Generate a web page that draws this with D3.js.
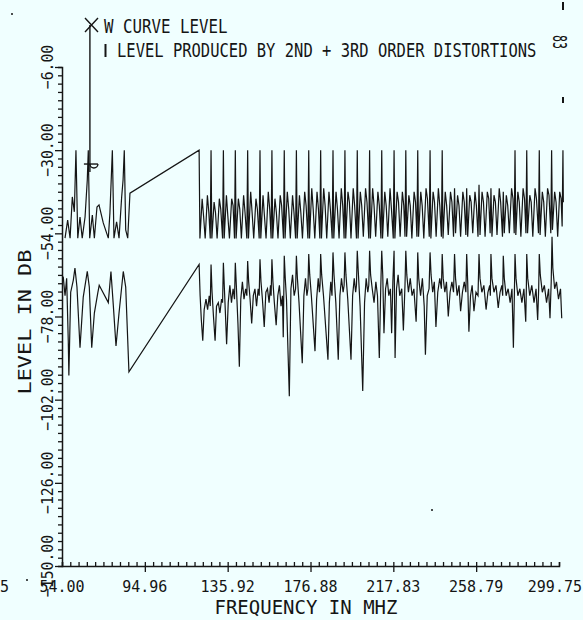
<!DOCTYPE html>
<html>
<head>
<meta charset="utf-8">
<script src="https://cdn.jsdelivr.net/npm/d3@7/dist/d3.min.js"></script>
<style>
  body { margin: 0; background: #f0ffff; }
  svg { display: block; }
  text { font-family: "DejaVu Sans Mono", monospace; fill: #151515; }
</style>
</head>
<body>
<svg id="chart" width="583" height="620"></svg>
<script>
// axis ticks as printed on the plot
var xTickValues = [54.00, 94.96, 135.92, 176.88, 217.83, 258.79, 299.75];
var yTickValues = [-6, -30, -54, -78, -102, -126, -150];

// legend
var legendLabels = ['W CURVE LEVEL', 'LEVEL PRODUCED BY 2ND + 3RD ORDER DISTORTIONS'];
var wCurvePoint = [67.8, -34.0];   // MHz, dB

// upper trace: [MHz, dB], low band (channels 2-6)
var upperLowBand = [
  [55.5, -55.4], [56.8, -50.2], [58.0, -55.4], [59.1, -43.5], [60.1, -47.8], [60.9, -30],
  [61.8, -55.4], [62.9, -49.3], [64.0, -55.4], [65.4, -49.3], [66.5, -38.6], [67.0, -30],
  [67.7, -55.4], [69.0, -48.7], [70.0, -55.4], [71.3, -46.4], [72.3, -45.8], [74.4, -51],
  [76.9, -55.4], [77.7, -48.1], [78.9, -30], [79.7, -55.4], [81.0, -50.7], [82.2, -55.4],
  [83.5, -43.5], [84.2, -38.6], [84.8, -30], [85.5, -53], [86.5, -55.4], [87.6, -42.4]
];

// upper trace: mid / high band
var upperMainBand = [
  [121.8, -30], [122.2, -55.5], [123.3, -44], [124.0, -49], [124.8, -55.5], [125.9, -43], [126.6, -48], [127.3, -55.5],
  [127.7, -30], [128.1, -55.5], [129.2, -45], [129.9, -48], [130.7, -55.5], [131.8, -44], [132.5, -47], [133.4, -55.5],
  [133.8, -30], [134.2, -55.5], [135.3, -43], [136.0, -49], [136.8, -55.5], [137.9, -44], [138.6, -46], [139.3, -55.5],
  [139.7, -30], [140.1, -55.5], [141.2, -44], [141.9, -47], [142.7, -55.5], [143.8, -43], [144.5, -48], [145.4, -55.5],
  [145.8, -30], [146.2, -55.5], [147.3, -42], [148.0, -48], [148.8, -55.5], [149.9, -44], [150.6, -47], [151.5, -55.5],
  [151.9, -30], [152.3, -55.5], [153.4, -43], [154.1, -49], [154.9, -55.5], [156.0, -42], [156.7, -47], [157.4, -55.5],
  [157.8, -30], [158.2, -55.5], [159.3, -44], [160.0, -48], [160.8, -55.5], [161.9, -43], [162.6, -46], [163.5, -55.5],
  [163.9, -30], [164.3, -55.5], [165.4, -42], [166.1, -47], [166.9, -55.5], [168.0, -43], [168.7, -48], [169.5, -55.5],
  [169.9, -30], [170.3, -55.5], [171.4, -43], [172.1, -48], [172.9, -55.5], [174.0, -42], [174.7, -46], [175.6, -55.5],
  [176.0, -30], [176.4, -55.5], [177.5, -41], [178.2, -47], [179.0, -55.5], [180.1, -42], [180.8, -47], [181.5, -55.5],
  [181.9, -30], [182.3, -55.5], [183.4, -41], [184.1, -46], [184.9, -55.5], [186.0, -42], [186.7, -47], [187.6, -55.5],
  [188.0, -30], [188.4, -55.5], [189.5, -42], [190.2, -47], [191.0, -55.5], [192.1, -41], [192.8, -46], [193.5, -55.5],
  [193.9, -30], [194.3, -55.5], [195.4, -42], [196.1, -45], [196.9, -55.5], [198.0, -41], [198.7, -46], [199.6, -55.5],
  [200.0, -30], [200.4, -55.5], [201.5, -42], [202.2, -46], [203.0, -55], [204.1, -41], [204.8, -45], [205.7, -55.5],
  [206.1, -30], [206.5, -55.5], [207.6, -41], [208.3, -46], [209.1, -55], [210.2, -42], [210.9, -46], [211.7, -55.5],
  [212.1, -30], [212.5, -55.5], [213.6, -42], [214.3, -46], [215.1, -55], [216.2, -41], [216.9, -47], [217.8, -55.5],
  [218.2, -30], [218.6, -55.5], [219.7, -42], [220.4, -45], [221.2, -55], [222.3, -42], [223.0, -46], [223.6, -55],
  [224.0, -30], [224.4, -55], [225.5, -43], [226.2, -46], [227.0, -55.5], [228.1, -42], [228.8, -45], [229.5, -55],
  [229.9, -30], [230.3, -55], [231.4, -42], [232.1, -46], [232.9, -55.5], [234.0, -41], [234.7, -44], [235.6, -55],
  [236.0, -30], [236.4, -55.5], [237.5, -42], [238.2, -45], [239.0, -55], [240.1, -41], [240.8, -46], [241.6, -55],
  [242.0, -30], [242.4, -55.5], [243.5, -42], [244.2, -46], [245.0, -54.5], [246.1, -42], [246.8, -45], [247.6, -55],
  [248.1, -41], [248.6, -54], [249.6, -43], [250.3, -46], [251.1, -55], [252.2, -42], [252.9, -45], [253.7, -54.5],
  [254.1, -41], [254.6, -55], [255.6, -43], [256.3, -45], [257.1, -54], [258.2, -42], [258.9, -46], [259.7, -55],
  [260.2, -40], [260.7, -54.5], [261.7, -42], [262.4, -45], [263.2, -55], [264.3, -42], [265.0, -44], [265.7, -54],
  [266.1, -41], [266.6, -55], [267.6, -43], [268.3, -45], [269.1, -54.5], [270.2, -41], [270.9, -45], [271.8, -55],
  [272.2, -42], [272.7, -54], [273.7, -43], [274.4, -46], [275.2, -54], [276.3, -41], [277.0, -44], [277.6, -54],
  [278.0, -30], [278.4, -54.5], [279.4, -42], [280.1, -45], [280.9, -55], [282.0, -41], [282.7, -44], [283.4, -54],
  [283.8, -30], [284.2, -54], [285.3, -43], [286.0, -45], [286.8, -55], [287.9, -41], [288.6, -44], [289.6, -54],
  [290.0, -30], [290.4, -54.5], [291.5, -42], [292.2, -45], [293.0, -55], [294.1, -41], [294.8, -43], [295.7, -54],
  [296.1, -30], [296.5, -53], [297.6, -42], [298.3, -45], [299.1, -55], [300.1, -42], [300.8, -44], [301.3, -52],
  [301.7, -30], [301.9, -45]
];

// lower trace: [MHz, dB], low band
var lowerLowBand = [
  [54.6, -66.5], [55.5, -72], [56.3, -67], [57.1, -85], [57.4, -95], [58.3, -71], [59.6, -67.5],
  [60.4, -64], [61.4, -69.5], [62.9, -87], [64.5, -72.4], [66.5, -65], [67.5, -69.5], [68.7, -87],
  [70.0, -77], [71.7, -71.2], [72.4, -69], [76.9, -74], [78.2, -65], [79.4, -75], [80.7, -86.5],
  [82.2, -77], [84.3, -65], [85.5, -69.5], [87.1, -94]
];

// lower trace: mid / high band
var lowerMainBand = [
  [121.8, -63], [122.3, -72], [122.9, -79], [123.6, -85], [124.3, -76], [125.2, -73], [126.0, -76], [126.8, -72], [127.3, -75],
  [127.7, -63], [128.2, -71], [128.9, -78], [129.7, -85], [130.4, -75], [131.3, -74], [132.1, -77], [132.9, -73], [133.4, -74],
  [133.8, -62.5], [134.3, -70], [134.8, -77], [135.4, -86], [136.2, -74], [137.0, -69], [137.8, -74], [138.6, -70], [139.3, -73],
  [139.7, -62.5], [140.2, -69], [141.0, -80], [141.7, -92.5], [142.4, -73], [143.2, -68], [144.0, -73], [144.8, -70], [145.4, -72],
  [145.8, -62], [146.3, -68], [147.0, -73], [147.8, -80], [148.6, -72], [149.4, -70], [150.2, -75], [151.0, -70], [151.5, -72],
  [151.9, -61.5], [152.4, -68], [153.1, -73], [154.0, -81], [154.8, -71], [155.6, -70], [156.4, -74], [157.1, -69], [157.4, -72],
  [157.8, -61.5], [158.3, -68], [159.0, -74], [159.9, -80.5], [160.7, -72], [161.5, -69], [162.3, -75], [163.0, -72], [163.4, -84],
  [163.9, -60.5], [164.4, -67], [165.0, -73], [166.4, -101], [167.2, -70], [168.0, -66], [168.8, -72], [169.5, -70],
  [169.9, -60.5], [170.4, -67], [171.2, -74], [172.8, -91.5], [173.6, -72], [174.4, -67], [175.1, -72], [175.6, -70],
  [176.0, -60], [176.5, -66], [177.3, -72], [179.1, -88], [179.9, -73], [180.7, -67], [181.3, -71], [181.6, -69],
  [181.9, -60], [182.4, -66], [183.3, -72], [185.5, -90.5], [186.2, -74], [186.9, -68], [187.5, -72],
  [188.0, -59.5], [188.5, -66], [189.4, -74], [190.6, -90.5], [191.4, -72], [192.2, -67], [193.0, -71], [193.5, -69],
  [193.9, -59.5], [194.4, -66], [195.3, -73], [196.9, -90.5], [197.7, -72], [198.5, -67], [199.2, -71], [199.6, -69],
  [200.0, -59], [200.5, -65], [201.4, -75], [202.7, -99.5], [203.6, -74], [204.4, -67], [205.2, -71], [205.7, -69],
  [206.1, -59], [206.6, -66], [207.4, -70], [208.3, -74], [209.2, -68], [210.0, -72], [210.9, -90], [211.6, -70],
  [212.1, -59], [212.6, -66], [213.2, -82.8], [214.0, -70], [214.8, -67], [215.6, -72], [216.4, -70], [217.0, -82.8], [217.6, -68],
  [218.2, -59], [218.7, -90], [219.4, -70], [220.2, -66], [221.0, -72], [222.0, -70], [222.8, -82], [223.6, -69],
  [224.0, -59], [224.5, -66], [225.3, -71], [226.2, -67], [227.1, -72], [228.0, -70], [229.1, -79.5], [229.6, -70],
  [229.9, -59.5], [230.4, -67], [231.3, -72], [232.2, -67], [233.1, -75], [233.7, -89], [234.6, -72], [235.5, -70],
  [236.0, -59.5], [236.5, -66], [237.3, -71], [238.1, -68], [238.9, -81], [239.8, -71], [240.8, -67], [241.6, -70],
  [242.0, -60], [242.5, -67], [243.3, -71], [244.1, -68], [245.0, -78], [245.9, -71], [246.8, -68], [247.6, -71],
  [248.1, -60], [248.6, -67], [249.4, -72], [250.3, -69], [251.1, -76.5], [252.0, -71], [252.9, -68], [253.7, -71],
  [254.1, -60], [254.6, -68], [255.2, -82.4], [256.0, -72], [256.8, -69], [257.7, -76.5], [258.7, -71], [259.7, -72],
  [260.2, -60], [260.7, -67], [261.6, -71], [262.6, -69], [263.7, -76], [264.6, -71], [265.5, -69], [265.8, -72],
  [266.1, -60], [266.6, -67], [267.6, -71], [268.6, -69], [269.7, -75.5], [270.6, -71], [271.5, -69], [271.9, -72],
  [272.2, -60.5], [272.7, -67], [273.6, -72], [274.6, -70], [275.6, -74], [276.5, -70], [277.2, -87], [277.7, -71],
  [278.0, -60], [278.5, -67], [279.4, -72], [280.4, -70], [281.4, -74], [282.4, -70], [283.3, -79.5], [283.6, -70],
  [283.8, -60], [284.3, -67], [285.3, -72], [286.3, -69], [287.4, -74], [288.4, -70], [289.2, -79], [289.7, -70],
  [290.0, -60], [290.5, -66], [291.5, -71], [292.5, -69], [293.6, -74], [294.6, -70], [295.3, -78.5], [295.9, -68],
  [296.3, -55], [296.7, -64], [297.6, -70], [298.5, -68], [299.5, -73], [300.5, -70], [301.1, -78.5]
];

var svg = d3.select('#chart');
var ink = '#151515';

svg.append('rect').attr('width', 583).attr('height', 620).attr('fill', '#f0ffff');

var x = d3.scaleLinear().domain([54, 299.75]).range([62, 559]);
var y = d3.scaleLinear().domain([-150, -6]).range([566, 67]);

// minor ticks: ten per labelled interval
var xMinor = d3.range(0, 61).map(function(i) { return 54 + i * (299.75 - 54) / 60; });
var yMinor = d3.range(0, 61).map(function(i) { return -150 + i * 2.4; });

var yAxisG = svg.append('g').attr('transform', 'translate(62,0)');
yAxisG.call(d3.axisLeft(y).tickValues(yMinor).tickSize(4).tickFormat(''));
yAxisG.call(function(g) {
  g.selectAll('.tick').filter(function(d) { return yTickValues.some(function(v) { return Math.abs(v - d) < 0.01; }); })
      .select('line').attr('x2', -7);
});

var xAxisG = svg.append('g').attr('transform', 'translate(0,566)');
xAxisG.call(d3.axisBottom(x).tickValues(xMinor).tickSize(-4).tickFormat(''));
svg.append('g').attr('transform', 'translate(0,566)')
    .call(d3.axisBottom(x).tickValues(xTickValues.slice(1, -1)).tickSize(6).tickFormat(''))
    .select('.domain').remove();

svg.selectAll('.domain').attr('stroke', ink).attr('stroke-width', 1.5);
svg.selectAll('.tick line').attr('stroke', ink).attr('stroke-width', 1.3);

// tick labels
svg.append('g').selectAll('text').data(yTickValues).enter().append('text')
    .attr('transform', function(d) { return 'translate(53,' + y(d) + ') rotate(-90)'; })
    .attr('text-anchor', 'middle')
    .style('font-size', '16px')
    .attr('textLength', function(d) { return d3.format('.2f')(d).length * 8.9; })
    .attr('lengthAdjust', 'spacingAndGlyphs')
    .text(function(d) { return d3.format('.2f')(d); });

// last label sits against the right edge of the sheet
svg.append('g').selectAll('text').data(xTickValues).enter().append('text')
    .attr('x', function(d, i) { return i === xTickValues.length - 1 ? 582 : x(d); })
    .attr('y', 592)
    .attr('text-anchor', function(d, i) { return i === xTickValues.length - 1 ? 'end' : 'middle'; })
    .style('font-size', '15px')
    .text(function(d) { return d3.format('.2f')(d); });

// axis titles
svg.append('text')
    .attr('transform', 'translate(31,322) rotate(-90)')
    .attr('text-anchor', 'middle')
    .style('font-size', '18px')
    .attr('textLength', 145).attr('lengthAdjust', 'spacingAndGlyphs')
    .text('LEVEL  IN  DB');

svg.append('text')
    .attr('x', 306).attr('y', 614)
    .attr('text-anchor', 'middle')
    .style('font-size', '19px')
    .attr('textLength', 183).attr('lengthAdjust', 'spacingAndGlyphs')
    .text('FREQUENCY IN MHZ');

// traces
var line = d3.line()
    .x(function(d) { return x(d[0]); })
    .y(function(d) { return y(d[1]); });

var traces = [upperLowBand.concat(upperMainBand), lowerLowBand.concat(lowerMainBand)];
svg.append('g').selectAll('path').data(traces).enter().append('path')
    .attr('d', line)
    .attr('fill', 'none')
    .attr('stroke', ink)
    .attr('stroke-width', 1.2)
    .attr('stroke-linejoin', 'miter');

// legend
var mx = x(wCurvePoint[0]), my = y(wCurvePoint[1]);
var lg = svg.append('g').attr('stroke', ink).attr('fill', 'none').attr('stroke-width', 1.4);
lg.append('path').attr('d', 'M85,18L98,32M98,18L85,32');
lg.append('line').attr('x1', mx).attr('y1', 25).attr('x2', mx).attr('y2', my + 8);
lg.append('line').attr('x1', mx - 6).attr('y1', my).attr('x2', mx + 8).attr('y2', my);
lg.append('path').attr('d', 'M' + mx + ',' + my + 'A4,4 0 0 0 ' + (mx + 8) + ',' + my);
lg.append('line').attr('x1', 105.5).attr('y1', 44).attr('x2', 105.5).attr('y2', 57).attr('stroke-width', 2);

// plotter lettering is taller than it is wide: narrow font, stretched vertically
svg.append('text').attr('transform', 'translate(104,33) scale(1,1.22)')
    .style('font-size', '15.8px')
    .text(legendLabels[0]);
svg.append('text').attr('transform', 'translate(117,57) scale(1,1.22)')
    .style('font-size', '15.5px')
    .text(legendLabels[1]);

// page marks from the scan
svg.append('text')
    .attr('transform', 'translate(553,35) rotate(90)')
    .style('font-size', '19px')
    .attr('textLength', 14).attr('lengthAdjust', 'spacingAndGlyphs')
    .text('83');
svg.append('g').attr('stroke', ink).attr('stroke-width', 2)
  .selectAll('line').data([[2, 10], [97, 103]]).enter().append('line')
    .attr('x1', 563).attr('x2', 563)
    .attr('y1', function(d) { return d[0]; }).attr('y2', function(d) { return d[1]; });
svg.append('text').attr('x', 0).attr('y', 592).style('font-size', '15px').text('5');
svg.append('g').attr('fill', ink)
  .selectAll('circle').data([[12, 14], [432, 510], [27, 580]]).enter().append('circle')
    .attr('cx', function(d) { return d[0]; }).attr('cy', function(d) { return d[1]; }).attr('r', 1);
</script>
</body>
</html>
